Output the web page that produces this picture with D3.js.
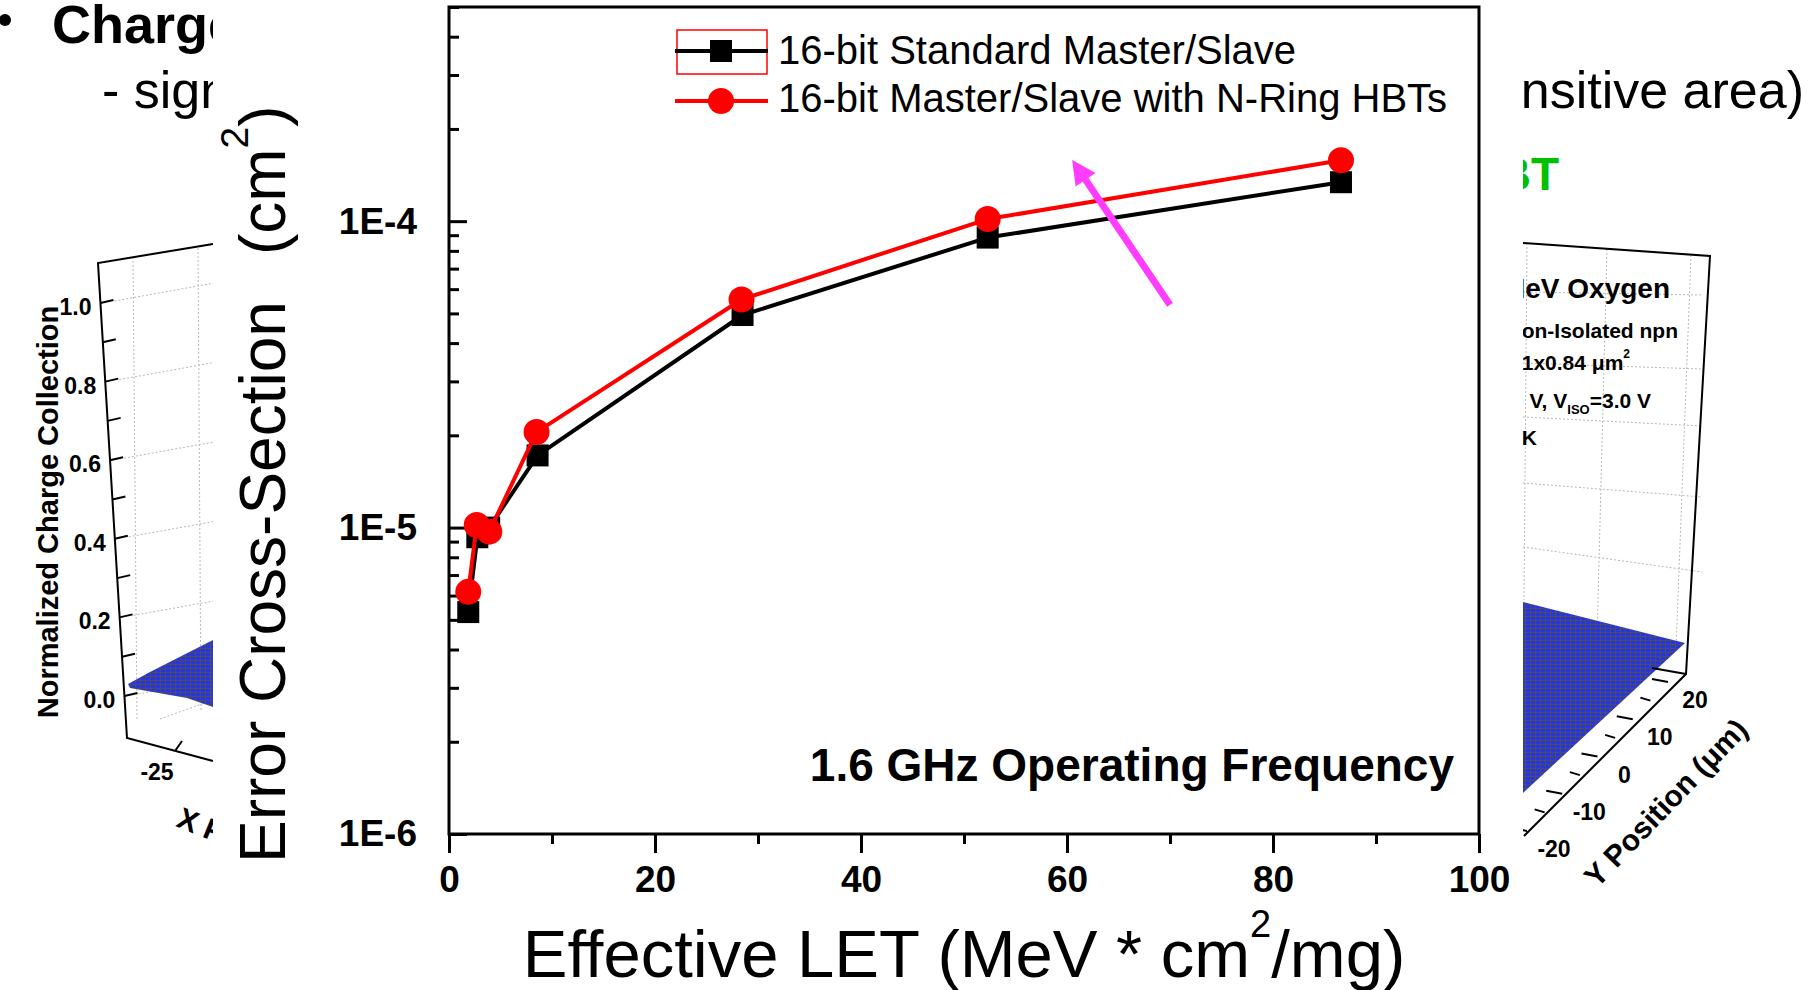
<!DOCTYPE html>
<html>
<head>
<meta charset="utf-8">
<script src="https://cdn.jsdelivr.net/npm/d3@7"></script>
<style>
  body { margin: 0; background: #fff; }
  svg { display: block; font-family: Arial, "Liberation Sans", Helvetica, sans-serif; }
</style>
</head>
<body>
<div id="frame"></div>
<script>
// ---- chart data ----
const seriesNames = ["16-bit Standard Master/Slave", "16-bit Master/Slave with N-Ring HBTs"];
const letStd = [1.87, 2.75, 3.9, 8.6, 28.5, 52.3, 86.6];
const sigmaStd = [5.3e-6, 9.3e-6, 1.0e-5, 1.72e-5, 4.94e-5, 8.84e-5, 1.34e-4];
const letRing = [1.87, 2.69, 3.91, 8.5, 28.4, 52.3, 86.6];
const sigmaRing = [6.17e-6, 1.02e-5, 9.7e-6, 2.05e-5, 5.55e-5, 1.016e-4, 1.58e-4];
const xMajorTicks = [0, 20, 40, 60, 80, 100];
const xMinorTicks = [10, 30, 50, 70, 90];
const yMajorTicks = [1e-6, 1e-5, 1e-4];
const yTickLabels = ["1E-6", "1E-5", "1E-4"];
const chartNote = "1.6 GHz Operating Frequency";
const arrowFrom = [70, 5.33e-5];
const arrowTo = [60.5, 1.585e-4];

// ---- slide fragments behind the chart ----
const slideTitle = "Charge";
const slideSub = "- signal";
const slideSubEnd = "sensitive area)";
const slideGreen = "HBT";
const leftZTicks = [0, 0.2, 0.4, 0.6, 0.8, 1.0];
const leftZMinor = [0.1, 0.3, 0.5, 0.7, 0.9];
const rightYTicks = [-20, -10, 0, 10, 20];

const W = 1816, H = 990;
const svg = d3.select("#frame").append("svg").attr("width", W).attr("height", H);
const defs = svg.append("defs");
const pat = defs.append("pattern").attr("id", "mesh")
  .attr("width", 5).attr("height", 4).attr("patternUnits", "userSpaceOnUse");
pat.append("rect").attr("width", 5).attr("height", 4).attr("fill", "#2434e6");
pat.append("path").attr("d", "M0,0.5H5M0.5,0V4").attr("stroke", "#4d4d5a").attr("stroke-width", 1);

const slide = svg.append("g");
slide.append("circle").attr("cx", 5).attr("cy", 20).attr("r", 6);
slide.append("text").attr("x", 52).attr("y", 43).attr("font-size", 54)
  .attr("font-weight", "bold").text(slideTitle);
slide.append("text").attr("x", 102).attr("y", 108).attr("font-size", 52).text(slideSub);
slide.append("text").attr("x", 1804).attr("y", 108).attr("text-anchor", "end")
  .attr("font-size", 52).text(slideSubEnd);
slide.append("text").attr("x", 1559).attr("y", 190).attr("text-anchor", "end")
  .attr("font-size", 46).attr("font-weight", "bold").attr("fill", "#00c000").text(slideGreen);

// left 3D plot (only its left edge shows)
const dotted = g => g.attr("stroke", "#b8b8b8").attr("stroke-width", 1).attr("stroke-dasharray", "2,2").attr("fill", "none");
const z = d3.scaleLinear().domain([0, 1]).range([696, 303]);
const axisXAt = yy => 98 + (yy - 263) * 0.061;
const lg = slide.append("g");
lg.append("g").call(dotted).selectAll("line").data(leftZTicks).join("line")
  .attr("x1", d => axisXAt(z(d)) + 14).attr("y1", d => z(d) - 2)
  .attr("x2", 213).attr("y2", d => z(d) - 2 - (213 - axisXAt(z(d)) - 14) * 0.18);
lg.append("g").call(dotted).selectAll("line").data([[133, 257, 137, 719], [198, 248, 201, 711], [160, 719, 213, 700]]).join("line")
  .attr("x1", d => d[0]).attr("y1", d => d[1]).attr("x2", d => d[2]).attr("y2", d => d[3]);
lg.append("path").attr("d", "M128,684L150,672L213,640L213,707L187,698L130,688Z").attr("fill", "url(#mesh)");
lg.append("path").attr("d", "M213,244L98,263L127,738L213,761").attr("fill", "none")
  .attr("stroke", "#000").attr("stroke-width", 2);
lg.append("g").selectAll("line").data(leftZTicks.concat(leftZMinor)).join("line")
  .attr("x1", d => axisXAt(z(d))).attr("y1", d => z(d))
  .attr("x2", d => axisXAt(z(d)) + 13).attr("y2", d => z(d) - 3)
  .attr("stroke", "#000").attr("stroke-width", 2);
lg.append("g").selectAll("text").data(leftZTicks).join("text")
  .attr("x", d => axisXAt(z(d)) - 9).attr("y", d => z(d) + 4).attr("dy", "0.35em")
  .attr("text-anchor", "end").attr("font-size", 23).attr("font-weight", "bold")
  .text(d => d.toFixed(1));
lg.append("line").attr("x1", 175).attr("y1", 751).attr("x2", 182).attr("y2", 741)
  .attr("stroke", "#000").attr("stroke-width", 2);
lg.append("text").attr("x", 157).attr("y", 772).attr("dy", "0.35em").attr("text-anchor", "middle")
  .attr("font-size", 23).attr("font-weight", "bold").text("-25");
lg.append("text").attr("transform", "translate(58,512) rotate(-90)").attr("text-anchor", "middle")
  .attr("font-size", 29).attr("font-weight", "bold").text("Normalized Charge Collection");
lg.append("text").attr("transform", "translate(175,826) rotate(22)")
  .attr("font-size", 30).attr("font-weight", "bold").text("X P");

// right 3D plot (only its right edge shows)
const rg = slide.append("g");
const hy = [292, 363, 417, 483, 547];
const hs = [3, 6, 9, 14, 25];
rg.append("g").call(dotted).selectAll("line").data(hy).join("line")
  .attr("x1", 1523).attr("y1", d => d).attr("x2", 1702).attr("y2", (d, i) => d + hs[i]);
rg.append("g").call(dotted).selectAll("line").data([[1527, 243, 1524, 600], [1607, 249, 1597, 640], [1691, 255, 1676, 650]]).join("line")
  .attr("x1", d => d[0]).attr("y1", d => d[1]).attr("x2", d => d[2]).attr("y2", d => d[3]);
rg.append("path").attr("d", "M1523,602L1685,643L1523,793Z").attr("fill", "url(#mesh)");
rg.append("path").attr("d", "M1523,243L1710,256L1686,674L1524,836").attr("fill", "none")
  .attr("stroke", "#000").attr("stroke-width", 2);
rg.append("path").attr("d", "M1686,674L1652,668").attr("stroke", "#000").attr("stroke-width", 2);
const ry = d3.scaleLinear().domain([-20, 20]);
const ryX = ry.copy().range([1527, 1668]), ryY = ry.copy().range([831, 682]);
rg.append("g").selectAll("line").data(d3.range(-20, 21, 5)).join("line")
  .attr("x1", d => ryX(d)).attr("y1", d => ryY(d))
  .attr("x2", d => ryX(d) - (d % 10 === 0 ? 16 : 10)).attr("y2", d => ryY(d) - 3)
  .attr("stroke", "#000").attr("stroke-width", 2);
rg.append("g").selectAll("text").data(rightYTicks).join("text")
  .attr("x", d => ryX(d) + 27).attr("y", d => ryY(d) + 18).attr("dy", "0.35em")
  .attr("text-anchor", "middle").attr("font-size", 23).attr("font-weight", "bold").text(d => d);
rg.append("text").attr("transform", "translate(1597,889) rotate(-46)")
  .attr("font-size", 30).attr("font-weight", "bold").text("Y Position (\u03bcm)");
const rnote = rg.append("g").attr("font-weight", "bold").attr("text-anchor", "end");
rnote.append("text").attr("x", 1670).attr("y", 298).attr("font-size", 28).text("MeV Oxygen");
rnote.append("text").attr("x", 1678).attr("y", 338).attr("font-size", 21).text("Non-Isolated npn");
const t3 = rnote.append("text").attr("x", 1630).attr("y", 370).attr("font-size", 21);
t3.append("tspan").text("0.31x0.84 \u03bcm");
t3.append("tspan").attr("dy", -12).attr("font-size", 12).text("2");
const t4 = rnote.append("text").attr("x", 1651).attr("y", 408).attr("font-size", 21);
t4.append("tspan").text("0 V, V");
t4.append("tspan").attr("dy", 6).attr("font-size", 13).text("ISO");
t4.append("tspan").attr("dy", -6).text("=3.0 V");
rnote.append("text").attr("x", 1537).attr("y", 445).attr("font-size", 21).text("0 K");

// ---- the chart itself ----
const chart = svg.append("g");
chart.append("rect").attr("x", 213).attr("y", 0).attr("width", 1310).attr("height", H).attr("fill", "#fff");

const x = d3.scaleLinear().domain([0, 100]).range([449, 1479]);
const y = d3.scaleLog().domain([1e-6, 5e-4]).range([834, 7]);

const yMinorTicks = [];
yMajorTicks.forEach(d => { for (let k = 2; k <= 9; k++) if (d * k <= 5e-4 + 1e-12) yMinorTicks.push(d * k); });

const styleAxis = g => {
  g.select(".domain").remove();
  g.selectAll(".tick line").attr("stroke", "#000").attr("stroke-width", 3);
  g.selectAll(".tick text").attr("fill", "#000").attr("font-family", null)
    .attr("font-size", 37).attr("font-weight", "bold");
};

chart.append("g").attr("transform", `translate(0,${y(1e-6)})`)
  .call(d3.axisBottom(x).tickValues(xMinorTicks).tickSize(10).tickFormat(""))
  .call(styleAxis);
chart.append("g").attr("transform", `translate(0,${y(1e-6)})`)
  .call(d3.axisBottom(x).tickValues(xMajorTicks).tickSize(19).tickPadding(13).tickFormat(d3.format("d")))
  .call(styleAxis);
chart.append("g").attr("transform", `translate(${x(0)},0)`)
  .call(d3.axisLeft(y).tickValues(yMinorTicks).tickSize(-10).tickFormat(""))
  .call(styleAxis);
chart.append("g").attr("transform", `translate(${x(0)},0)`)
  .call(d3.axisLeft(y).tickValues(yMajorTicks).tickSize(-18).tickPadding(32)
    .tickFormat((d, i) => yTickLabels[i]))
  .call(styleAxis);

chart.append("rect").attr("x", x(0)).attr("y", y(5e-4))
  .attr("width", x(100) - x(0)).attr("height", y(1e-6) - y(5e-4))
  .attr("fill", "none").attr("stroke", "#000").attr("stroke-width", 3);

// series
const line = d3.line().x(d => x(d[0])).y(d => y(d[1]));
const stdPts = d3.zip(letStd, sigmaStd);
const ringPts = d3.zip(letRing, sigmaRing);

chart.append("path").datum(stdPts).attr("d", line)
  .attr("fill", "none").attr("stroke", "#000").attr("stroke-width", 4).attr("stroke-linejoin", "round");
chart.append("g").selectAll("rect").data(stdPts).join("rect")
  .attr("x", d => x(d[0]) - 11).attr("y", d => y(d[1]) - 11)
  .attr("width", 22).attr("height", 22).attr("fill", "#000");

chart.append("path").datum(ringPts).attr("d", line)
  .attr("fill", "none").attr("stroke", "#ff0000").attr("stroke-width", 4).attr("stroke-linejoin", "round");
chart.append("g").selectAll("circle").data(ringPts).join("circle")
  .attr("cx", d => x(d[0])).attr("cy", d => y(d[1])).attr("r", 13).attr("fill", "#ff0000");

// legend
const leg = chart.append("g");
leg.append("rect").attr("x", 677).attr("y", 30).attr("width", 90).attr("height", 44)
  .attr("fill", "none").attr("stroke", "#ff0000").attr("stroke-width", 1.5);
leg.append("line").attr("x1", 675).attr("x2", 768).attr("y1", 51).attr("y2", 51)
  .attr("stroke", "#000").attr("stroke-width", 4);
leg.append("rect").attr("x", 710).attr("y", 40).attr("width", 22).attr("height", 22).attr("fill", "#000");
leg.append("line").attr("x1", 675).attr("x2", 768).attr("y1", 101).attr("y2", 101)
  .attr("stroke", "#ff0000").attr("stroke-width", 4);
leg.append("circle").attr("cx", 721).attr("cy", 101).attr("r", 13).attr("fill", "#ff0000");
leg.selectAll("text").data(seriesNames).join("text")
  .attr("x", 778).attr("y", (d, i) => 64 + i * 48).attr("font-size", 40).text(d => d);

// note
chart.append("text").attr("x", 1454).attr("y", 781).attr("text-anchor", "end")
  .attr("font-size", 46).attr("font-weight", "bold").text(chartNote);

// pink arrow
const ax0 = x(arrowFrom[0]), ay0 = y(arrowFrom[1]);
const ax1 = x(arrowTo[0]), ay1 = y(arrowTo[1]);
const len = Math.hypot(ax1 - ax0, ay1 - ay0);
const ux = (ax1 - ax0) / len, uy = (ay1 - ay0) / len;
const headL = 24, headW = 12;
const bx = ax1 - ux * headL, by = ay1 - uy * headL;
chart.append("line").attr("x1", ax0).attr("y1", ay0).attr("x2", bx + ux * 2).attr("y2", by + uy * 2)
  .attr("stroke", "#ff3cff").attr("stroke-width", 7);
chart.append("path")
  .attr("d", `M${ax1},${ay1}L${bx - uy * headW},${by + ux * headW}L${bx + uy * headW},${by - ux * headW}Z`)
  .attr("fill", "#ff3cff");

// axis titles
const xt = chart.append("text").attr("x", (x(0) + x(100)) / 2).attr("y", 977)
  .attr("text-anchor", "middle").attr("font-size", 67);
xt.append("tspan").text("Effective LET (MeV * cm");
xt.append("tspan").attr("dy", -40).attr("font-size", 38).text("2");
xt.append("tspan").attr("dy", 40).text("/mg)");

const yt = chart.append("text").attr("transform", "translate(285,863) rotate(-90)").attr("font-size", 64);
yt.append("tspan").text("Error Cross-Section");
yt.append("tspan").attr("dx", 46).text("(cm");
yt.append("tspan").attr("dy", -37).attr("font-size", 39).text("2");
yt.append("tspan").attr("dy", 37).text(")");
</script>
</body>
</html>
